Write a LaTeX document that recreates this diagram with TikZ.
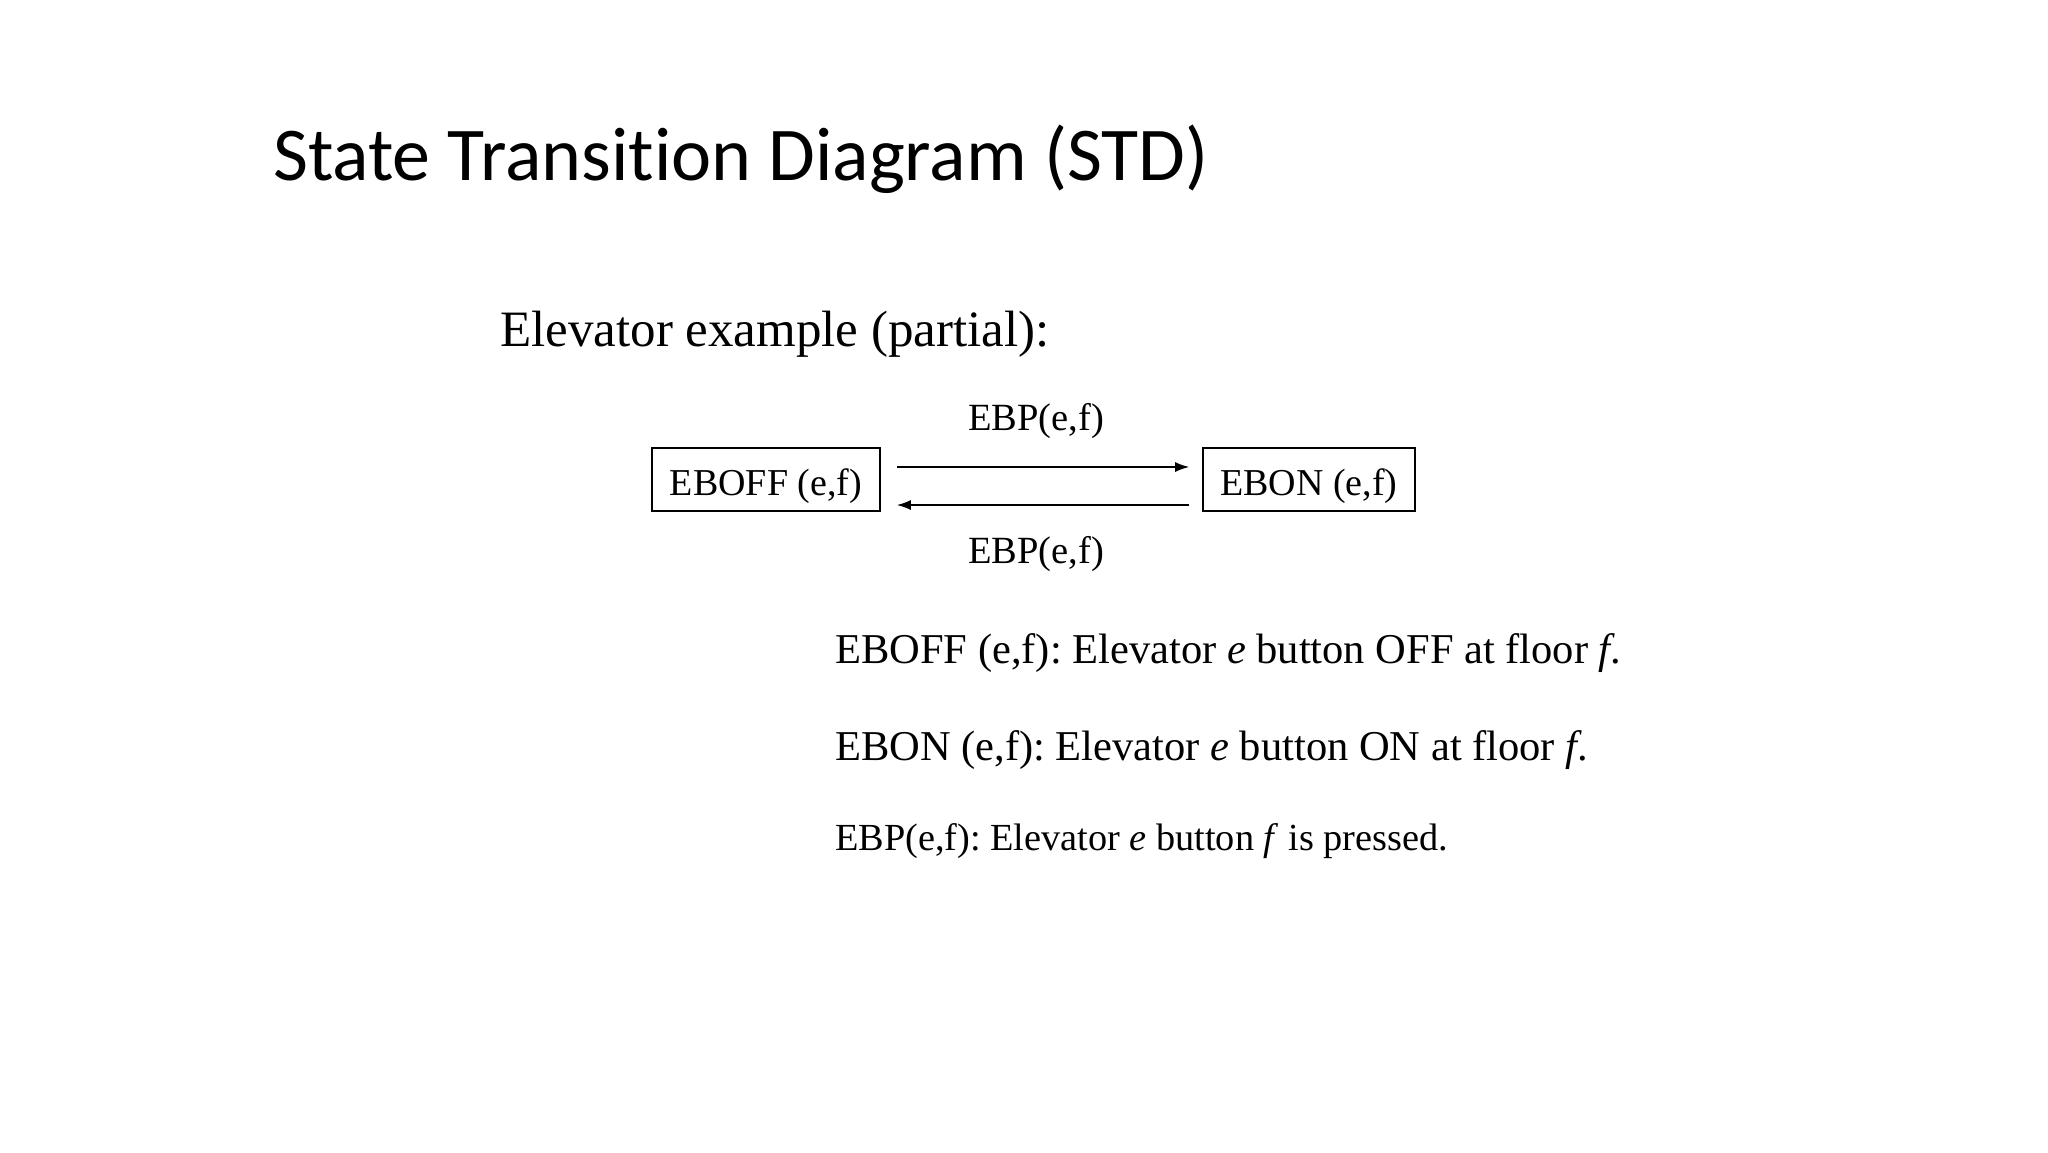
\documentclass[tikz,border=0pt]{standalone}
\usepackage{fontspec}
\setmainfont{Liberation Serif}
\newfontfamily\titlefont[Ligatures=NoCommon]{Carlito}
\usetikzlibrary{arrows.meta}
\frenchspacing
\begin{document}
\begin{tikzpicture}[x=1pt,y=-1pt,
  statebox/.style={draw,line width=1.6pt,inner sep=0pt,minimum height=63pt,text height=31pt,text depth=0pt,font=\fontsize{38}{44}\selectfont},
  arr/.style={line width=1.6pt,-{Latex[length=14pt,width=10pt]}},
  lbl/.style={inner sep=0pt,font=\fontsize{38.5}{44}\selectfont},
  deftext/.style={inner sep=0pt,anchor=base west,font=\fontsize{42.5}{50}\selectfont}]
\useasboundingbox[fill=white] (0,0) rectangle (2048,1152);
\node[inner sep=0pt,anchor=base west,font=\titlefont\fontsize{76}{88}\selectfont] (title) at (273,180) {State Transition Diagram (STD)};
\node[inner sep=0pt,anchor=base west,font=\fontsize{51}{60}\selectfont] (sub) at (500,346) {Elevator example (partial):};
\node[statebox,minimum width=228pt] (eboff) at (766,479.5) {EBOFF (e,f)};
\node[statebox,minimum width=212pt] (ebon) at (1309,479.5) {EBON (e,f)};
\draw[arr] ([xshift=16pt,yshift=12.5pt]eboff.east) -- ([xshift=-13pt,yshift=12.5pt]ebon.west);
\draw[arr] ([xshift=-13pt,yshift=-25.5pt]ebon.west) -- ([xshift=16pt,yshift=-25.5pt]eboff.east);
\node[lbl] (top) at (1036,421) {EBP(e,f)};
\node[lbl] (bot) at (1036,554) {EBP(e,f)};
\node[deftext] (d1) at (835,663) {EBOFF (e,f): Elevator \textit{e} button OFF at floor \textit{f}.};
\node[deftext] (d2) at (835,760) {EBON (e,f): Elevator \textit{e} button ON at floor \textit{f}.};
\node[deftext,font=\fontsize{38.3}{46}\selectfont] (d3) at (835,850) {EBP(e,f): Elevator \textit{e} button \textit{f} is pressed.};
\end{tikzpicture}
\end{document}
